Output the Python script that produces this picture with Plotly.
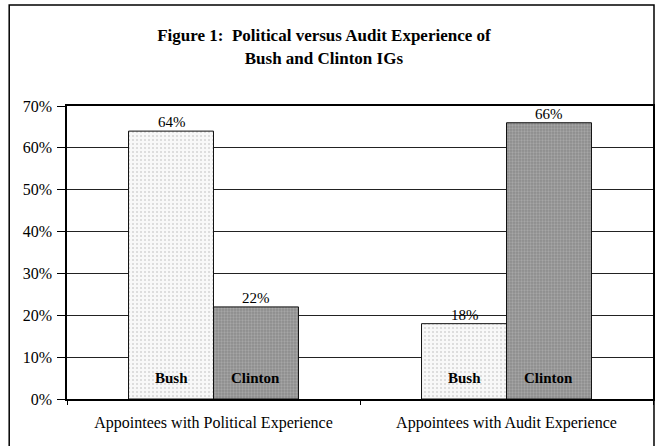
import plotly.graph_objects as go

# Chart data
categories = ["Appointees with Political Experience", "Appointees with Audit Experience"]
series_names = ["Bush", "Clinton"]
bush_values = [0.64, 0.18]
clinton_values = [0.22, 0.66]
y_ticks = [0, 0.1, 0.2, 0.3, 0.4, 0.5, 0.6, 0.7]

FONT = "Liberation Serif"

W, H = 657, 446
L, R, T, B = 67, 2, 106, 47

fig = go.Figure()

styles = {
    "Bush": dict(bg="#f8f8f8", fg="#b0b0b0", size=4, solidity=0.2),
    "Clinton": dict(bg="#8c8c8c", fg="#c0c0c0", size=3, solidity=0.45),
}

for name, vals in zip(series_names, [bush_values, clinton_values]):
    st = styles[name]
    fig.add_trace(go.Bar(
        name=name,
        x=categories,
        y=vals,
        marker=dict(
            color=st["bg"],
            line=dict(color="#111111", width=1),
            pattern=dict(shape=".", bgcolor=st["bg"], fgcolor=st["fg"],
                         size=st["size"], solidity=st["solidity"]),
        ),
        showlegend=False,
        hoverinfo="skip",
    ))

# Series names at the foot of each bar, values above each bar
bar_shift = 42
for sign, name, vals in zip([-1, 1], series_names, [bush_values, clinton_values]):
    for cat, v in zip(categories, vals):
        fig.add_annotation(
            x=cat, y=0, xref="x", yref="y",
            text=f"<b>{name}</b>",
            showarrow=False, yanchor="bottom", xshift=sign * bar_shift, yshift=11,
            font=dict(family="Liberation Serif, serif", size=15, color="black"),
        )
        fig.add_annotation(
            x=cat, y=v, xref="x", yref="y",
            text=f"{round(v * 100)}%",
            showarrow=False, yanchor="bottom", xshift=sign * bar_shift, yshift=-1,
            font=dict(family=FONT, size=15, color="black"),
        )

# Outer frame around the whole figure
pw, ph = W - L - R, H - T - B
def px_x(p):
    return (p - L) / pw
def px_y(p):
    return (H - B - p) / ph

fig.add_shape(type="rect", xref="paper", yref="paper",
              x0=px_x(9), x1=px_x(656), y0=px_y(452), y1=px_y(5),
              line=dict(color="black", width=1.5), fillcolor="rgba(0,0,0,0)",
              layer="above")

fig.update_layout(
    width=W, height=H,
    margin=dict(l=L, r=R, t=T, b=B),
    paper_bgcolor="white",
    plot_bgcolor="white",
    barmode="group",
    bargap=0.42,
    bargroupgap=0,
    title=dict(
        text="Figure 1:  Political versus Audit Experience of<br>Bush and Clinton IGs",
        x=0.493, xanchor="center", y=0.907, yanchor="top",
        font=dict(family=FONT, size=17, color="black", weight="bold"),
    ),
    xaxis=dict(
        type="category",
        showline=True, linecolor="black", linewidth=1.5, mirror=True,
        ticks="outside", tickson="boundaries", ticklen=4, tickcolor="black",
        tickfont=dict(family=FONT, size=16, color="black"),
        ticklabelstandoff=8,
        showgrid=False,
    ),
    yaxis=dict(
        range=[0, 0.7],
        tickvals=y_ticks,
        tickformat=".0%",
        showline=True, linecolor="black", linewidth=1.5, mirror=True,
        ticks="outside", ticklen=8, tickcolor="black",
        tickfont=dict(family=FONT, size=16, color="black"),
        ticklabelstandoff=2,
        showgrid=True, gridcolor="#222222", gridwidth=1,
        zeroline=False,
    ),
)

fig.write_html("out.html")
